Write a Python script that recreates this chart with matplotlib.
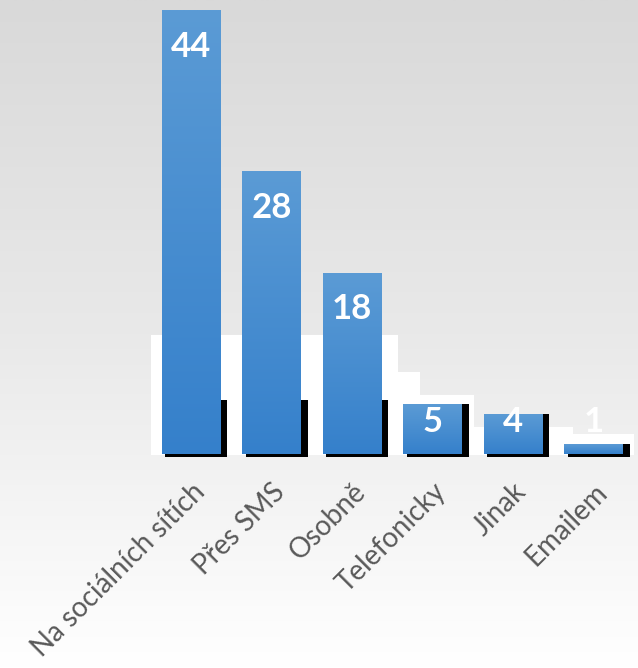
import numpy as np
import matplotlib
matplotlib.use("Agg")
from matplotlib import pyplot as plt
from matplotlib.colors import LinearSegmentedColormap
from matplotlib.patches import Polygon, Rectangle

categories = ["Na sociálních sítích", "Přes SMS", "Osobně", "Telefonicky", "Jinak", "Emailem"]
values = [44, 28, 18, 5, 4, 1]

plt.rcParams["font.family"] = ["Lato", "DejaVu Sans"]

W, H = 638, 668
fig = plt.figure(figsize=(W / 100, H / 100), dpi=100)

# background gradient (grey at top, white at bottom)
bg = fig.add_axes([0, 0, 1, 1], zorder=0)
grad = np.linspace(0, 1, 256).reshape(-1, 1)
bg_cmap = LinearSegmentedColormap.from_list("bg", ["#d9d9d9", "#e9e9e9", "#ffffff"])
bg.imshow(grad, aspect="auto", cmap=bg_cmap, extent=[0, W, H, 0])
bg.set_xlim(0, W)
bg.set_ylim(H, 0)
bg.set_axis_off()

# white plot-area patch behind the bars (stepped, as in the source image)
steps = [(151, 455), (151, 335), (398, 335), (398, 372), (420, 372), (420, 395),
         (474, 395), (474, 427), (573, 427), (573, 434), (634, 434), (634, 455)]
bg.add_patch(Polygon(steps, closed=True, color="white", lw=0))

left, right, top, base = 151, 634, 0, 455
ax = fig.add_axes([left / W, 1 - base / H, (right - left) / W, (base - top) / H], zorder=1)
ax.patch.set_alpha(0)

x = np.arange(len(categories))
bar_w = 0.73
bar_cmap = LinearSegmentedColormap.from_list("bar", ["#3580cb", "#5b9bd5"])

# dark shadow at the foot of each bar (right side and bottom)
for xi, v in zip(x, values):
    x0 = xi - bar_w / 2
    ax.add_patch(Rectangle((x0 + 0.04, -0.2), bar_w + 0.04, min(v + 0.25, 5.6),
                           color="black", lw=0, zorder=1, clip_on=False))

bars = ax.bar(x, values, width=bar_w, color="none", zorder=2)
for rect in bars:
    x0, y0 = rect.get_x(), rect.get_y()
    w, h = rect.get_width(), rect.get_height()
    ax.imshow(grad, cmap=bar_cmap, aspect="auto", origin="lower",
              extent=[x0, x0 + w, y0 + 0.1, y0 + h], zorder=3)

for xi, v in zip(x, values):
    ax.text(xi, max(v - 3.6, 3.3), str(v), ha="center", va="center", color="white",
            fontsize=25, fontweight="bold", zorder=4)

ax.set_xlim(-0.5, len(categories) - 0.5)
ax.set_ylim(0, 45)
ax.set_xticks(x)
ax.set_xticklabels(categories, rotation=45, ha="right", rotation_mode="anchor",
                   fontsize=20, color="#595959")
ax.tick_params(axis="x", length=0, pad=17)
ax.set_yticks([])
for s in ax.spines.values():
    s.set_visible(False)

fig.savefig("out.png", dpi=100)
